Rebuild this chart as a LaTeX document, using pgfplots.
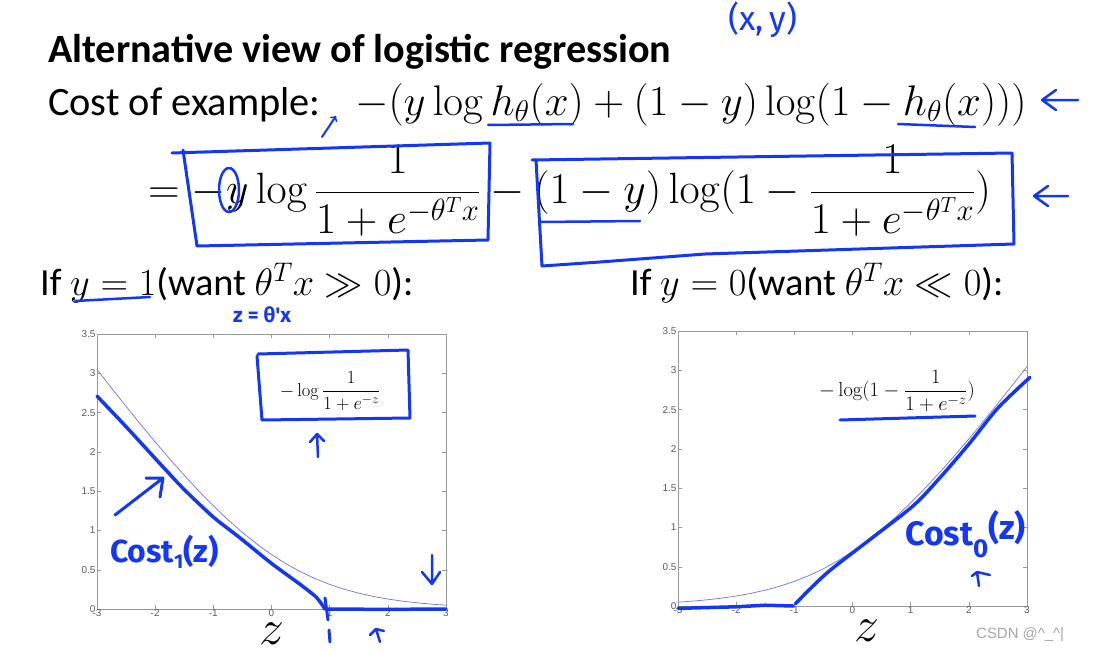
\documentclass[border=0pt]{standalone}
\usepackage{fix-cm}
\usepackage{pgfplots}
\pgfplotsset{compat=1.18}
\usepackage{amsmath}
\usepackage[no-math]{fontspec}
\setmainfont{Carlito}
\newfontfamily\tickfont{Liberation Sans}
\newfontfamily\handfont{Fira Sans}
\definecolor{hand}{RGB}{20,55,245}
\definecolor{thinblue}{RGB}{110,110,255}
\definecolor{tickgray}{RGB}{90,90,90}
\pgfplotsset{
  costaxis/.style={
    scale only axis, width=349bp, height=275bp,
    xmin=-3, xmax=3, ymin=0, ymax=3.5,
    xtick={-3,-2,-1,0,1,2,3}, ytick={0,0.5,1,1.5,2,2.5,3,3.5},
    tick align=inside, major tick length=4bp,
    axis line style={draw=gray!80}, tick style={gray!80, line width=0.4bp},
    ticklabel style={font=\tickfont\fontsize{10}{10}\selectfont, text=tickgray},
    /pgf/number format/assume math mode=true,
    /pgf/number format/fixed,
    xticklabel style={yshift=3bp},
    yticklabel style={xshift=2bp},
    xlabel={$z$},
    xlabel style={font=\fontsize{50}{50}\selectfont, inner sep=0pt, yshift=-3bp},
    clip=false,
  }
}
\begin{document}
\begin{tikzpicture}
\useasboundingbox (0,0) rectangle (1101bp,-653bp);
% Title and formulas
\node[anchor=base west, inner sep=0] at (48bp,-62bp) {\fontsize{40.3}{40}\selectfont\bfseries Alternative view of logistic regression};
\node[anchor=base west, inner sep=0] at (48bp,-115bp) {\fontsize{40.5}{40}\selectfont Cost of example:};
\node[anchor=base west, inner sep=0] at (355bp,-115bp) {\fontsize{43}{43}\selectfont $-(y\log h_\theta(x)+(1-y)\log(1-h_\theta(x)))$};
\node[anchor=west, inner sep=0] at (148bp,-191bp) {\fontsize{44}{44}\selectfont $\displaystyle =-y\log\frac{1}{1+e^{-\theta^Tx}}-(1-y)\log(1-\frac{1}{1+e^{-\theta^Tx}})$};
\node[anchor=base west, inner sep=0] at (40bp,-295bp) {\fontsize{38.5}{38}\selectfont If $y=1$(want $\theta^Tx\gg0$):};
\node[anchor=base west, inner sep=0] at (630bp,-295bp) {\fontsize{38.5}{38}\selectfont If $y=0$(want $\theta^Tx\ll0$):};

% Left plot
\begin{axis}[costaxis, at={(97bp,-609bp)}, anchor=south west]
\addplot[thinblue, line width=0.7bp] coordinates {
(-3,3.0486) (-2.75,2.8119) (-2.5,2.5789) (-2.25,2.3502) (-2,2.1269) (-1.75,1.9102)
(-1.5,1.7014) (-1.25,1.5019) (-1,1.3133) (-0.75,1.1369) (-0.5,0.9741) (-0.25,0.8259)
(0,0.6931) (0.25,0.5759) (0.5,0.4741) (0.75,0.3869) (1,0.3133) (1.25,0.2519)
(1.5,0.2014) (1.75,0.1602) (2,0.1269) (2.25,0.1002) (2.5,0.0789) (2.75,0.0620) (3,0.0486)};
\addplot[hand, line width=3.5bp, line cap=round, line join=round, smooth, tension=0.4] coordinates {
(-3,2.71) (-2.5,2.32) (-1.93,1.86) (-1.5,1.52) (-1,1.17) (-0.55,0.91) (0,0.58)
(0.48,0.32) (0.77,0.15) (0.92,0.0)};
\addplot[hand, line width=3.5bp, line cap=round] coordinates {(0.92,0.0) (2,-0.005) (3,0.0)};
\end{axis}

% Right plot
\begin{axis}[costaxis, at={(678bp,-606bp)}, anchor=south west, xlabel style={xshift=14bp}]
\addplot[thinblue, line width=0.7bp] coordinates {
(-3,0.0486) (-2.75,0.0620) (-2.5,0.0789) (-2.25,0.1002) (-2,0.1269) (-1.75,0.1602)
(-1.5,0.2014) (-1.25,0.2519) (-1,0.3133) (-0.75,0.3869) (-0.5,0.4741) (-0.25,0.5759)
(0,0.6931) (0.25,0.8259) (0.5,0.9741) (0.75,1.1369) (1,1.3133) (1.25,1.5019)
(1.5,1.7014) (1.75,1.9102) (2,2.1269) (2.25,2.3502) (2.5,2.5789) (2.75,2.8119) (3,3.0486)};
\addplot[hand, line width=3.5bp, line cap=round, line join=round] coordinates {
(-3,-0.03) (-2.5,-0.02) (-2,-0.01) (-1.5,0.01) (-1.02,0.0)};
\addplot[hand, line width=3.5bp, line cap=round, line join=round, smooth, tension=0.5] coordinates {
(-0.98,0.03) (-0.44,0.42) (0.36,0.88) (1.05,1.28) (1.5,1.63) (2.0,2.06) (2.5,2.52) (3.05,2.91)};
\end{axis}

% Plot legends
\node[inner sep=0] at (330bp,-391bp) {\fontsize{18.6}{18}\selectfont $\displaystyle -\log\frac{1}{1+e^{-z}}$};
\node[inner sep=0] at (897bp,-391bp) {\fontsize{20.5}{20}\selectfont $\displaystyle -\log(1-\frac{1}{1+e^{-z}})$};

% Handwritten annotations
\begin{scope}[hand, line width=3bp, line cap=round, line join=round]
\draw (172bp,-153bp) -- (490bp,-143bp) -- (488bp,-240bp) -- (197bp,-246bp) -- (183bp,-150bp);
\draw (532bp,-160bp) -- (1012bp,-153bp) -- (1014bp,-244bp) -- (705bp,-254bp) -- (600bp,-262bp) -- (542bp,-266bp) -- (536bp,-160bp);
\draw[line width=2.5bp] (229bp,-190bp) ellipse (10bp and 22bp);
\draw[line width=2.5bp] (488bp,-125bp) -- (573bp,-124bp);
\draw[line width=2.5bp] (898bp,-124bp) -- (975bp,-127bp);
\draw[line width=2.5bp] (540bp,-222bp) -- (640bp,-221bp);
\draw[line width=2.5bp] (75bp,-301bp) -- (150bp,-297bp);
\draw[line width=2bp,->] (322bp,-137bp) -- (336bp,-116bp);
\draw[line width=2.5bp] (1078bp,-100bp) -- (1042bp,-100bp) (1056bp,-90bp) -- (1042bp,-100bp) -- (1056bp,-110bp);
\draw[line width=2.5bp] (1068bp,-196bp) -- (1034bp,-196bp) (1048bp,-186bp) -- (1034bp,-196bp) -- (1048bp,-206bp);
\draw (258bp,-354bp) -- (408bp,-350bp) -- (410bp,-418bp) -- (262bp,-420bp) -- (257bp,-356bp);
\draw[line width=2.5bp] (318bp,-457bp) -- (317bp,-434bp) (310bp,-442bp) -- (317bp,-434bp) -- (324bp,-441bp);
\draw (115bp,-515bp) -- (163bp,-478bp) (146bp,-478bp) -- (163bp,-478bp) -- (160bp,-497bp);
\draw[line width=2.5bp] (432bp,-555bp) -- (432bp,-584bp) (422bp,-572bp) -- (432bp,-584bp) -- (440bp,-572bp);
\draw (325bp,-598bp) -- (328bp,-620bp) (329bp,-630bp) -- (330bp,-642bp);
\draw[line width=2.5bp] (380bp,-642bp) -- (376bp,-629bp) (370bp,-635bp) -- (376bp,-629bp) -- (384bp,-631bp);
\draw (840bp,-420bp) -- (975bp,-416bp);
\draw[line width=2.5bp] (979bp,-586bp) -- (977bp,-572bp) (972bp,-576bp) -- (977bp,-572bp) -- (990bp,-575bp);
\end{scope}
\node[hand, anchor=base west, inner sep=0] at (728bp,-30bp) {\handfont\fontsize{34}{34}\selectfont (x,\,y)};
\node[hand, anchor=base west, inner sep=0] at (233bp,-322bp) {\handfont\fontsize{21}{21}\selectfont\bfseries z = θ'x};
\node[hand, anchor=base west, inner sep=0] at (110bp,-562bp) {\handfont\fontsize{32}{32}\selectfont\bfseries Cost\raisebox{-6bp}{\fontsize{20}{20}\selectfont 1}(z)};
\node[hand, anchor=base west, inner sep=0] at (905bp,-545bp) {\handfont\fontsize{34}{34}\selectfont\bfseries Cost\raisebox{-12bp}{\fontsize{26}{26}\selectfont 0}\raisebox{6bp}{(z)}};
\node[anchor=base west, inner sep=0, text=gray!70] at (976bp,-638bp) {\tickfont\fontsize{15}{15}\selectfont CSDN @\textasciicircum\_\textasciicircum|};
\end{tikzpicture}
\end{document}
